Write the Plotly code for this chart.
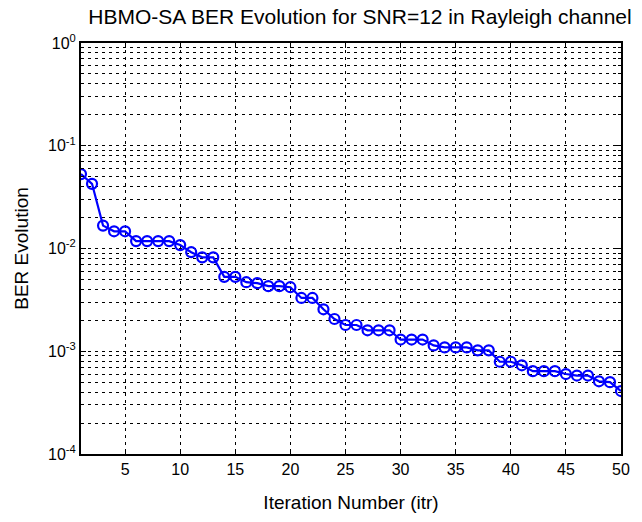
import plotly.graph_objects as go

# BER per HBMO-SA iteration (SNR = 12 dB, Rayleigh fading)
iterations = list(range(1, 51))
ber = [
    0.0530, 0.0426, 0.0167, 0.0147, 0.0147, 0.0118, 0.0118, 0.0118, 0.0118, 0.0108,
    0.0092, 0.0082, 0.0082, 0.0053, 0.0053, 0.0047, 0.0046, 0.0043, 0.0043, 0.0042,
    0.0033, 0.0033, 0.00256, 0.00206, 0.0018, 0.0018, 0.0016, 0.0016, 0.0016, 0.0013,
    0.0013, 0.0013, 0.00114, 0.00109, 0.00109, 0.00109, 0.00102, 0.00102, 0.00079, 0.00079,
    0.00073, 0.00064, 0.00064, 0.00064, 0.00060, 0.00058, 0.00058, 0.00051, 0.00050, 0.00041,
]

x_ticks = [5, 10, 15, 20, 25, 30, 35, 40, 45, 50]
decades = [-4, -3, -2, -1, 0]

# labelled major ticks at the powers of ten, minor ticks at 2..9 times each decade
y_major = [10.0 ** d for d in decades]
y_major_text = [f"10<sup>{d}</sup>" for d in decades]
y_minor = [m * 10.0 ** d for d in decades[:-1] for m in range(2, 10)]

font_family = "Liberation Sans, Arial, Helvetica, sans-serif"
grid_style = dict(gridcolor="black", gridwidth=1, griddash="3px,4px")

fig = go.Figure(
    go.Scatter(
        x=iterations,
        y=ber,
        mode="lines+markers",
        line=dict(color="#0000ff", width=2.2),
        marker=dict(symbol="circle-open", size=10, color="#0000ff",
                    line=dict(color="#0000ff", width=2.2)),
        showlegend=False,
    )
)

fig.update_layout(
    width=642,
    height=522,
    margin=dict(l=81, r=20, t=43, b=58),
    paper_bgcolor="white",
    plot_bgcolor="white",
    font=dict(family=font_family, size=15, color="black"),
    title=dict(
        text="HBMO-SA BER Evolution for SNR=12 in Rayleigh channel",
        x=360 / 642, xanchor="center",
        y=1 - 17 / 522, yanchor="middle",
        font=dict(size=21, family=font_family, color="black"),
    ),
)

fig.update_xaxes(
    range=[1, 50],
    tickvals=x_ticks,
    ticks="inside", ticklen=5, tickcolor="black", tickwidth=1,
    showline=True, linecolor="black", linewidth=2, mirror="ticks",
    showgrid=True, **grid_style,
    zeroline=False,
    tickfont=dict(size=16),
    title=dict(text="Iteration Number (itr)", font=dict(size=19), standoff=18),
)

fig.update_yaxes(
    type="log",
    range=[-4, 0],
    tickvals=y_major,
    ticktext=y_major_text,
    ticks="inside", ticklen=5, tickcolor="black", tickwidth=1,
    showline=True, linecolor="black", linewidth=2, mirror="ticks",
    showgrid=True, **grid_style,
    minor=dict(
        tickvals=y_minor,
        ticks="inside", ticklen=3, tickcolor="black", tickwidth=1,
        showgrid=True, **grid_style,
    ),
    zeroline=False,
    tickfont=dict(size=16),
    title=dict(text="BER Evolution", font=dict(size=19), standoff=14),
)

fig.write_html("out.html")
